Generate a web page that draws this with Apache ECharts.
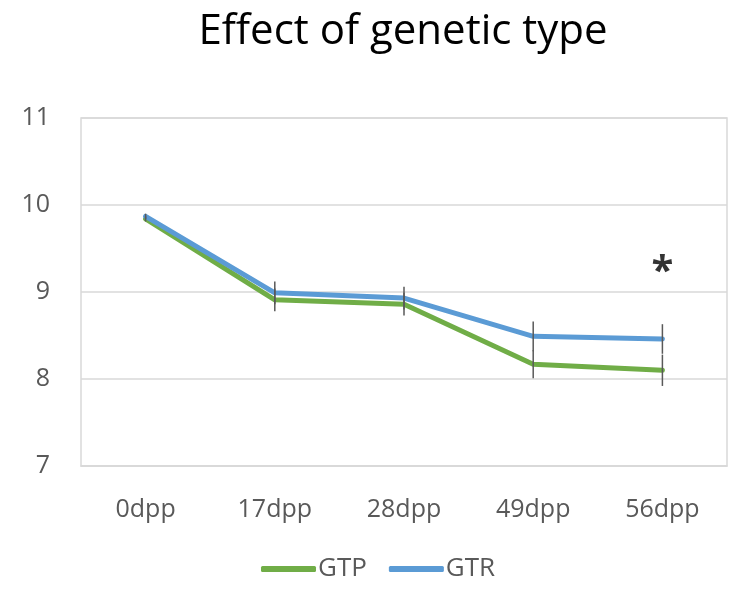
<!DOCTYPE html>
<html>
<head>
<meta charset="utf-8">
<script src="https://cdn.jsdelivr.net/npm/echarts@6/dist/echarts.min.js"></script>
<style>html,body{margin:0;padding:0;background:#fff}#c{width:744px;height:590px}</style>
</head>
<body>
<div id="c"></div>
<script>
const categories = ['0dpp', '17dpp', '28dpp', '49dpp', '56dpp'];
const gtpValues = [9.84, 8.91, 8.86, 8.17, 8.10];
const gtrValues = [9.87, 8.99, 8.93, 8.49, 8.46];
const gtpErr = [0.03, 0.13, 0.13, 0.16, 0.18];
const gtrErr = [0.03, 0.13, 0.13, 0.17, 0.17];
const sigMarks = [['56dpp', 9.22, '*']];
const yTicks = [7, 8, 9, 10, 11];

const FONT = '"Open Sans", Lato, sans-serif';
const chart = echarts.init(document.getElementById('c'));

function errData(vals, errs) {
  return categories.map((c, i) => [i, vals[i] - errs[i], vals[i] + errs[i]]);
}
function errRender(params, api) {
  const x = api.value(0);
  const lo = api.coord([x, api.value(1)]);
  const hi = api.coord([x, api.value(2)]);
  return {
    type: 'line',
    shape: { x1: lo[0], y1: lo[1], x2: hi[0], y2: hi[1] },
    style: { stroke: '#595959', lineWidth: 1.5 }
  };
}

chart.setOption({
  animation: false,
  backgroundColor: '#fff',
  title: {
    text: 'Effect of genetic type',
    left: 398,
    textAlign: 'center',
    top: 6,
    textStyle: { fontFamily: FONT, fontSize: 42, fontWeight: 'normal', color: '#000' }
  },
  legend: {
    bottom: 3,
    left: 256,
    icon: 'roundRect',
    itemWidth: 55,
    itemHeight: 6,
    itemGap: 22,
    data: ['GTP', 'GTR'],
    textStyle: { fontFamily: FONT, fontSize: 26, color: '#595959', padding: [0, 0, 0, -3] }
  },
  grid: { left: 81, right: 17, top: 118, bottom: 124, show: true, borderColor: '#d9d9d9', borderWidth: 1.5 },
  xAxis: {
    type: 'category',
    data: categories,
    boundaryGap: true,
    axisLine: { show: true, lineStyle: { color: '#d9d9d9', width: 1.5 } },
    axisTick: { show: false },
    axisLabel: { fontFamily: FONT, fontSize: 25, color: '#595959', margin: 31 }
  },
  yAxis: {
    type: 'value',
    min: yTicks[0],
    max: yTicks[yTicks.length - 1],
    interval: 1,
    axisLine: { show: false },
    axisTick: { show: false },
    splitLine: { lineStyle: { color: '#d9d9d9', width: 1.5 } },
    axisLabel: { fontFamily: FONT, fontSize: 25, color: '#595959', margin: 31 }
  },
  series: [
    {
      name: 'GTP', type: 'line', data: gtpValues, showSymbol: false, symbol: 'none',
      lineStyle: { color: '#70AD47', width: 5, cap: 'round', join: 'round' },
      itemStyle: { color: '#70AD47' }, z: 3
    },
    {
      name: 'GTR', type: 'line', data: gtrValues, showSymbol: false, symbol: 'none',
      lineStyle: { color: '#5B9BD5', width: 5, cap: 'round', join: 'round' },
      itemStyle: { color: '#5B9BD5' }, z: 4
    },
    { type: 'custom', renderItem: errRender, data: errData(gtpValues, gtpErr), z: 5, silent: true },
    { type: 'custom', renderItem: errRender, data: errData(gtrValues, gtrErr), z: 5, silent: true },
    {
      type: 'scatter', symbolSize: 0, silent: true,
      data: sigMarks.map(m => ({ value: [m[0], m[1]], label: { formatter: m[2] } })),
      label: { show: true, position: 'inside', fontFamily: FONT, fontSize: 40, fontWeight: 'bold', color: '#000' }
    }
  ]
});
</script>
</body>
</html>
